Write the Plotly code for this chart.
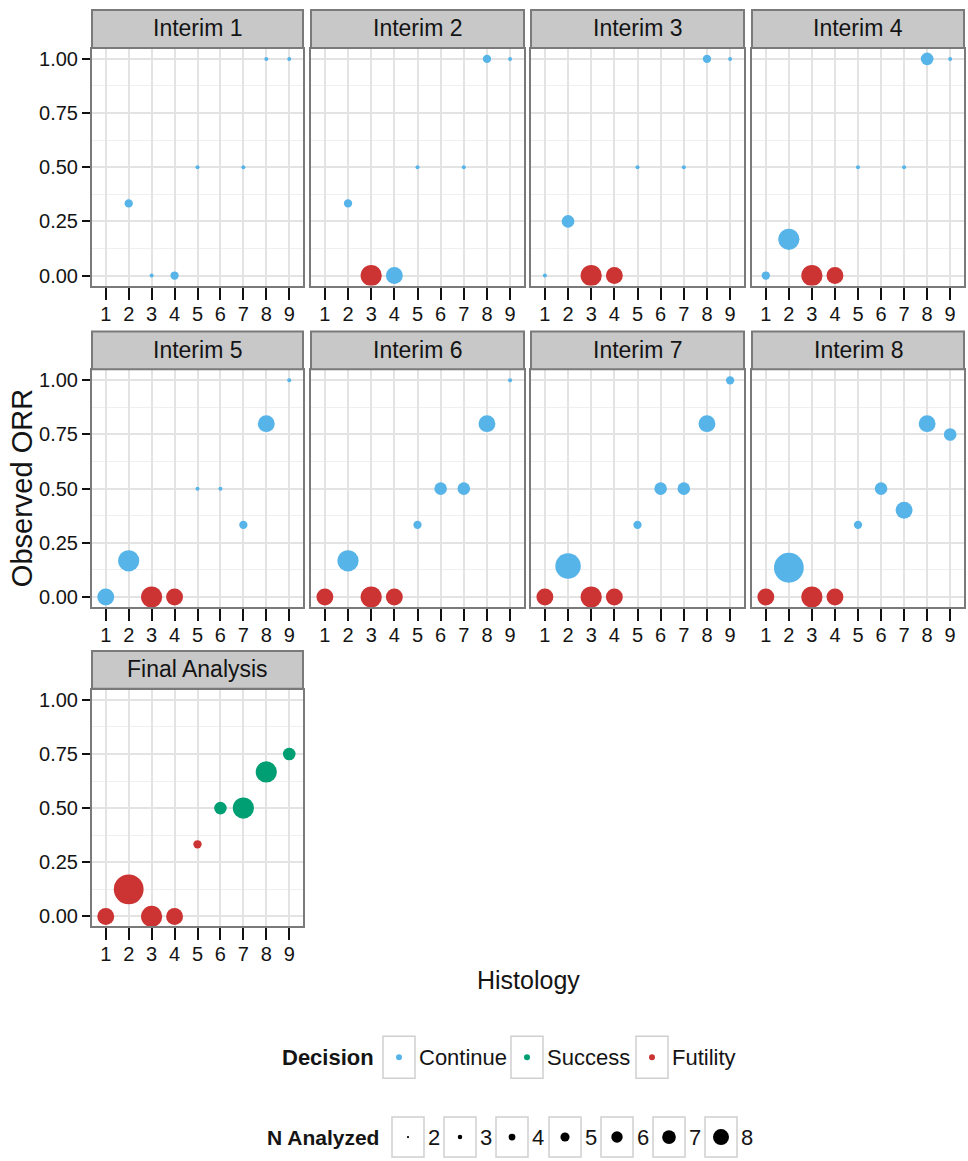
import plotly.graph_objects as go

# ---------------- data ----------------
histology = [1, 2, 3, 4, 5, 6, 7, 8, 9]
panels = ["Interim 1", "Interim 2", "Interim 3", "Interim 4", "Interim 5",
          "Interim 6", "Interim 7", "Interim 8", "Final Analysis"]

orr_i1 = [None, 0.333, 0.0, 0.0, 0.5, None, 0.5, 1.0, 1.0]
n_i1 = [None, 3, 2, 3, 2, None, 2, 2, 2]
dec_i1 = [None, "Continue", "Continue", "Continue", "Continue", None, "Continue", "Continue", "Continue"]

orr_i2 = [None, 0.333, 0.0, 0.0, 0.5, None, 0.5, 1.0, 1.0]
n_i2 = [None, 3, 6, 5, 2, None, 2, 3, 2]
dec_i2 = [None, "Continue", "Futility", "Continue", "Continue", None, "Continue", "Continue", "Continue"]

orr_i3 = [0.0, 0.25, 0.0, 0.0, 0.5, None, 0.5, 1.0, 1.0]
n_i3 = [2, 4, 6, 5, 2, None, 2, 3, 2]
dec_i3 = ["Continue", "Continue", "Futility", "Futility", "Continue", None, "Continue", "Continue", "Continue"]

orr_i4 = [0.0, 0.167, 0.0, 0.0, 0.5, None, 0.5, 1.0, 1.0]
n_i4 = [3, 6, 6, 5, 2, None, 2, 4, 2]
dec_i4 = ["Continue", "Continue", "Futility", "Futility", "Continue", None, "Continue", "Continue", "Continue"]

orr_i5 = [0.0, 0.167, 0.0, 0.0, 0.5, 0.5, 0.333, 0.8, 1.0]
n_i5 = [5, 6, 6, 5, 2, 2, 3, 5, 2]
dec_i5 = ["Continue", "Continue", "Futility", "Futility", "Continue", "Continue", "Continue", "Continue", "Continue"]

orr_i6 = [0.0, 0.167, 0.0, 0.0, 0.333, 0.5, 0.5, 0.8, 1.0]
n_i6 = [5, 6, 6, 5, 3, 4, 4, 5, 2]
dec_i6 = ["Futility", "Continue", "Futility", "Futility", "Continue", "Continue", "Continue", "Continue", "Continue"]

orr_i7 = [0.0, 0.143, 0.0, 0.0, 0.333, 0.5, 0.5, 0.8, 1.0]
n_i7 = [5, 7, 6, 5, 3, 4, 4, 5, 3]
dec_i7 = ["Futility", "Continue", "Futility", "Futility", "Continue", "Continue", "Continue", "Continue", "Continue"]

orr_i8 = [0.0, 0.135, 0.0, 0.0, 0.333, 0.5, 0.4, 0.8, 0.75]
n_i8 = [5, 8, 6, 5, 3, 4, 5, 5, 4]
dec_i8 = ["Futility", "Continue", "Futility", "Futility", "Continue", "Continue", "Continue", "Continue", "Continue"]

orr_fin = [0.0, 0.125, 0.0, 0.0, 0.333, 0.5, 0.5, 0.667, 0.75]
n_fin = [5, 8, 6, 5, 3, 4, 6, 6, 4]
dec_fin = ["Futility", "Futility", "Futility", "Futility", "Futility", "Success", "Success", "Success", "Success"]

orr_all = [orr_i1, orr_i2, orr_i3, orr_i4, orr_i5, orr_i6, orr_i7, orr_i8, orr_fin]
n_all = [n_i1, n_i2, n_i3, n_i4, n_i5, n_i6, n_i7, n_i8, n_fin]
dec_all = [dec_i1, dec_i2, dec_i3, dec_i4, dec_i5, dec_i6, dec_i7, dec_i8, dec_fin]

decisions = ["Continue", "Success", "Futility"]
n_levels = [2, 3, 4, 5, 6, 7, 8]
y_ticks = [0.0, 0.25, 0.5, 0.75, 1.0]
y_minor = [0.125, 0.375, 0.625, 0.875]

# ---------------- style ----------------
W, H = 968, 1161
colors = {"Continue": "#56B4E9", "Success": "#009E73", "Futility": "#CC3333"}
FONT = "Liberation Sans, Arial, Helvetica, sans-serif"
TXT = "#141414"

col_px = [(92, 303), (311, 524), (531, 744), (752, 964)]
row_px = [(48, 285), (370, 607), (690, 927)]
strip_h = 39


def size_px(n):
    return 4.3 * n - 4.6


def legend_size_px(n):
    return 2.3 * n - 2.4


fig = go.Figure()
layout = dict(
    width=W, height=H, margin=dict(l=0, r=0, t=0, b=0),
    paper_bgcolor="white", plot_bgcolor="white", showlegend=False,
    font=dict(family=FONT, color=TXT),
)
shapes, annotations = [], []

for i, name in enumerate(panels):
    r, c = divmod(i, 4)
    k = "" if i == 0 else str(i + 1)
    xa, ya = "x" + k, "y" + k
    for d in decisions:
        xs = [h for h, v, dd in zip(histology, orr_all[i], dec_all[i]) if v is not None and dd == d]
        ys = [v for v, dd in zip(orr_all[i], dec_all[i]) if v is not None and dd == d]
        ss = [size_px(n) for v, n, dd in zip(orr_all[i], n_all[i], dec_all[i]) if v is not None and dd == d]
        if xs:
            fig.add_trace(go.Scatter(
                x=xs, y=ys, mode="markers", xaxis=xa, yaxis=ya, name=d,
                marker=dict(color=colors[d], size=ss, line=dict(width=0), opacity=1),
                hoverinfo="x+y"))
    x0, x1 = col_px[c]
    y0, y1 = row_px[r]
    layout["xaxis" + k] = dict(
        domain=[x0 / W, x1 / W], anchor=ya, range=[0.4, 9.6],
        tickmode="array", tickvals=histology, ticktext=[str(h) for h in histology],
        ticks="outside", ticklen=12, tickwidth=2, tickcolor="#111111",
        ticklabelstandoff=-3,
        tickfont=dict(size=20, family=FONT, color=TXT),
        showgrid=True, gridcolor="#e3e3e3", gridwidth=1.5, zeroline=False,
        showline=True, linecolor="#7a7a7a", linewidth=2, mirror=True,
        fixedrange=True)
    layout["yaxis" + k] = dict(
        domain=[1 - y1 / H, 1 - y0 / H], anchor=xa, range=[-0.046, 1.046],
        tickmode="array", tickvals=y_ticks, ticktext=["%.2f" % v for v in y_ticks],
        ticks="outside" if c == 0 else "", ticklen=8, tickwidth=2, tickcolor="#111111",
        showticklabels=(c == 0),
        tickfont=dict(size=20, family=FONT, color=TXT),
        showgrid=True, gridcolor="#e3e3e3", gridwidth=1.5, zeroline=False,
        minor=dict(tickmode="array", tickvals=y_minor, showgrid=True,
                   gridcolor="#efefef", gridwidth=1, ticks=""),
        showline=True, linecolor="#7a7a7a", linewidth=2, mirror=True,
        fixedrange=True)
    ph = y1 - y0
    shapes.append(dict(type="rect", xref=xa + " domain", yref=ya + " domain",
                       x0=0, x1=1, y0=1 + 1 / ph, y1=1 + strip_h / ph,
                       fillcolor="#c8c8c8", line=dict(color="#7a7a7a", width=2), layer="above"))
    annotations.append(dict(text=name, xref=xa + " domain", yref=ya + " domain",
                            x=0.5, y=1 + (strip_h / 2 + 1) / ph, showarrow=False,
                            xanchor="center", yanchor="middle",
                            font=dict(size=23, family=FONT, color=TXT)))

# axis titles
annotations.append(dict(text="Observed ORR", xref="paper", yref="paper", x=22 / W, y=1 - 488 / H,
                        textangle=-90, showarrow=False, xanchor="center", yanchor="middle",
                        font=dict(size=29, family=FONT, color=TXT)))
annotations.append(dict(text="Histology", xref="paper", yref="paper", x=528 / W, y=1 - 981 / H,
                        showarrow=False, xanchor="center", yanchor="middle",
                        font=dict(size=25, family=FONT, color=TXT)))

# ---------------- manual legends ----------------
LEG_TOP = 1000
layout["xaxis10"] = dict(domain=[0, 1], range=[0, W], visible=False, anchor="y10", fixedrange=True)
layout["yaxis10"] = dict(domain=[0, (H - LEG_TOP) / H], range=[H, LEG_TOP], visible=False,
                         anchor="x10", fixedrange=True)

# Decision legend layout (pixel positions of key boxes)
dec_box_left = [383, 511, 636]
dec_box_w, dec_box_top, dec_box_bot = 32, 1037, 1079
dec_cy = (dec_box_top + dec_box_bot) / 2
annotations.append(dict(text="<b>Decision</b>", xref="paper", yref="paper", x=376 / W, y=1 - dec_cy / H,
                        xanchor="right", yanchor="middle", showarrow=False,
                        font=dict(size=22, family=FONT, color=TXT)))
for d, bl in zip(decisions, dec_box_left):
    shapes.append(dict(type="rect", xref="paper", yref="paper", x0=bl / W, x1=(bl + dec_box_w) / W,
                       y0=1 - dec_box_bot / H, y1=1 - dec_box_top / H,
                       line=dict(color="#d0d0d0", width=1.5), fillcolor="white", layer="below"))
    fig.add_trace(go.Scatter(x=[bl + dec_box_w / 2], y=[dec_cy], mode="markers", xaxis="x10", yaxis="y10",
                             marker=dict(color=colors[d], size=6, line=dict(width=0)), hoverinfo="skip"))
    annotations.append(dict(text=d, xref="paper", yref="paper", x=(bl + dec_box_w + 2) / W, y=1 - dec_cy / H,
                            xanchor="left", yanchor="middle", showarrow=False,
                            font=dict(size=22, family=FONT, color=TXT)))

# N Analyzed legend
n_box_left = [392, 444, 496, 549, 601, 653, 705]
n_box_w, n_box_top, n_box_bot = 32, 1118, 1158
n_cy = (n_box_top + n_box_bot) / 2
annotations.append(dict(text="<b>N Analyzed</b>", xref="paper", yref="paper", x=381 / W, y=1 - n_cy / H,
                        xanchor="right", yanchor="middle", showarrow=False,
                        font=dict(size=21, family=FONT, color=TXT)))
for n, bl in zip(n_levels, n_box_left):
    shapes.append(dict(type="rect", xref="paper", yref="paper", x0=bl / W, x1=(bl + n_box_w) / W,
                       y0=1 - n_box_bot / H, y1=1 - n_box_top / H,
                       line=dict(color="#d0d0d0", width=1.5), fillcolor="white", layer="below"))
    fig.add_trace(go.Scatter(x=[bl + n_box_w / 2], y=[n_cy], mode="markers", xaxis="x10", yaxis="y10",
                             marker=dict(color="black", size=legend_size_px(n), line=dict(width=0)),
                             hoverinfo="skip"))
    annotations.append(dict(text=str(n), xref="paper", yref="paper", x=(bl + n_box_w + 2) / W, y=1 - n_cy / H,
                            xanchor="left", yanchor="middle", showarrow=False,
                            font=dict(size=22, family=FONT, color=TXT)))

layout["shapes"] = shapes
layout["annotations"] = annotations
fig.update_layout(**layout)

fig.write_html("out.html", config={"displayModeBar": False},
               post_script="document.body.style.margin='0';")
